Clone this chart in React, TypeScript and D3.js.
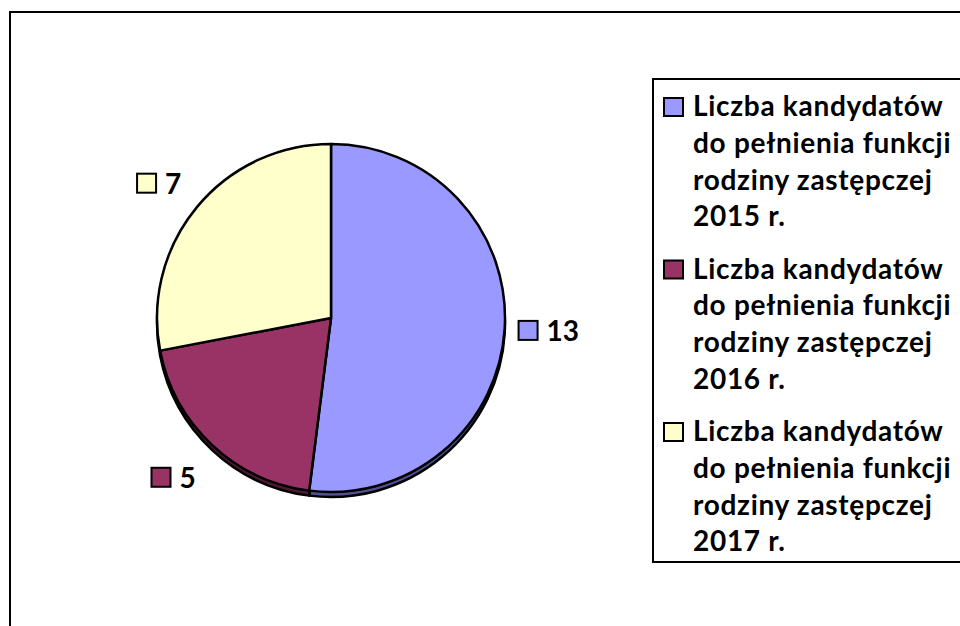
import React, { useEffect, useRef } from "react";
import * as d3 from "d3";

const categories = [
  "Liczba kandydatów do pełnienia funkcji rodziny zastępczej 2015 r.",
  "Liczba kandydatów do pełnienia funkcji rodziny zastępczej 2016 r.",
  "Liczba kandydatów do pełnienia funkcji rodziny zastępczej 2017 r.",
];
const legendLines = [
  ["Liczba kandydatów", "do pełnienia funkcji", "rodziny zastępczej", "2015 r."],
  ["Liczba kandydatów", "do pełnienia funkcji", "rodziny zastępczej", "2016 r."],
  ["Liczba kandydatów", "do pełnienia funkcji", "rodziny zastępczej", "2017 r."],
];
const values = [13, 5, 7];
const colors = ["#9999FF", "#993366", "#FFFFCC"];
const sideColors = ["#4f5290", "#4d1a33", "#8a8a6e"];
const labelGap = [13, 34, 27];

const W = 960;
const H = 626;
const FONT = "Lato, 'Open Sans', sans-serif";

export default function App() {
  const ref = useRef<SVGSVGElement | null>(null);

  useEffect(() => {
    const svg = d3.select(ref.current);
    svg.selectAll("*").remove();

    // outer frame
    svg.append("rect").attr("x", 10).attr("y", 12).attr("width", 980).attr("height", 660)
      .attr("fill", "#fff").attr("stroke", "#000").attr("stroke-width", 2);

    const cx = 331, cy = 318, R = 174, depth = 5;
    const pie = d3.pie<number>().sort(null).value((d) => d)(values);
    const arc = d3.arc<d3.PieArcDatum<number>>().innerRadius(0).outerRadius(R);

    // 3D side
    const side = svg.append("g").attr("transform", `translate(${cx},${cy + depth})`);
    side.selectAll("path").data(pie).join("path")
      .attr("d", arc as any)
      .attr("fill", (_, i) => sideColors[i])
      .attr("stroke", "#000").attr("stroke-width", 2.5).attr("stroke-linejoin", "round");

    const top = svg.append("g").attr("transform", `translate(${cx},${cy})`);
    top.selectAll("path").data(pie).join("path")
      .attr("d", arc as any)
      .attr("fill", (_, i) => colors[i])
      .attr("stroke", "#000").attr("stroke-width", 2.5).attr("stroke-linejoin", "round");

    // data labels
    const fs = 28;
    pie.forEach((p, i) => {
      const a = (p.startAngle + p.endAngle) / 2;
      const s = Math.sin(a), c = Math.cos(a);
      const g = svg.append("g");
      const t = g.append("text").text(String(values[i]))
        .attr("font-family", FONT).attr("font-weight", 700).attr("font-size", fs)
        .attr("fill", "#000");
      const tw = (t.node() as SVGTextElement).getComputedTextLength();
      const w = 20 + 9 + tw, h = 21;
      const bx = cx + (R + labelGap[i]) * s + s * w / 2;
      const by = cy - (R + labelGap[i]) * c - c * h / 2;
      const left = bx - w / 2, topY = by - h / 2;
      g.insert("rect", "text").attr("x", left + 1).attr("y", topY + 1).attr("width", 19).attr("height", 19)
        .attr("fill", colors[i]).attr("stroke", "#000").attr("stroke-width", 2);
      t.attr("x", left + 29).attr("y", topY + 21);
    });

    // legend
    svg.append("rect").attr("x", 653).attr("y", 79).attr("width", 400).attr("height", 483)
      .attr("fill", "#fff").attr("stroke", "#000").attr("stroke-width", 2);
    const lfs = 28;
    const lineH = 36.8;
    const itemH = 162.5;
    categories.forEach((_, i) => {
      const base = 116 + i * itemH;
      svg.append("rect").attr("x", 664).attr("y", base - 18).attr("width", 19).attr("height", 18)
        .attr("fill", colors[i]).attr("stroke", "#000").attr("stroke-width", 2);
      legendLines[i].forEach((ln, j) => {
        svg.append("text").text(ln).attr("x", 693).attr("y", base + j * lineH)
          .attr("font-family", FONT).attr("font-weight", 700).attr("font-size", lfs)
          .attr("letter-spacing", 0.7)
          .attr("fill", "#000");
      });
    });
  }, []);

  return (
    <svg ref={ref} width={W} height={H}
      style={{ position: "absolute", left: 0, top: 0, display: "block", background: "#fff" }} />
  );
}
